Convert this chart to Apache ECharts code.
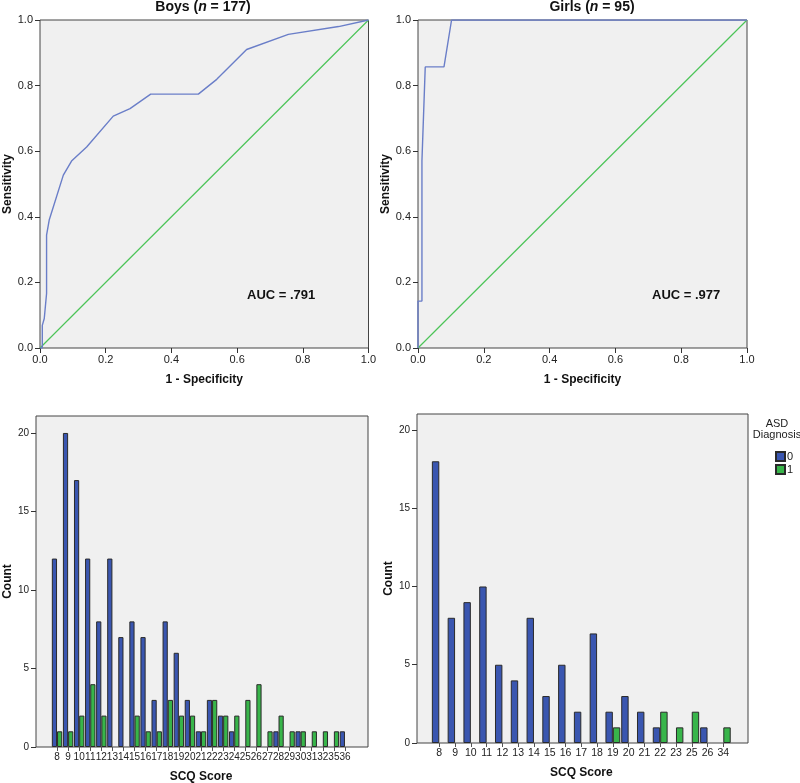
<!DOCTYPE html>
<html>
<head>
<meta charset="utf-8">
<script src="https://cdn.jsdelivr.net/npm/echarts@6/dist/echarts.min.js"></script>
<style>
html,body{margin:0;padding:0;background:#fff;}
#chart{width:800px;height:783px;}
</style>
</head>
<body>
<div id="chart"></div>
<script>
// ROC curves (1 - specificity, sensitivity)
var boysFPR = [0, 0.007, 0.007, 0.013, 0.02, 0.02, 0.028, 0.071, 0.096, 0.142, 0.223, 0.274, 0.337, 0.482, 0.538, 0.629, 0.756, 0.909, 1];
var boysTPR = [0, 0.0, 0.069, 0.09, 0.166, 0.344, 0.39, 0.527, 0.57, 0.613, 0.707, 0.73, 0.774, 0.774, 0.819, 0.91, 0.956, 0.98, 1];
var girlsFPR = [0, 0, 0.012, 0.012, 0.022, 0.079, 0.102, 1];
var girlsTPR = [0, 0.143, 0.143, 0.571, 0.857, 0.857, 1, 1];
var refX = [0, 1];
var refY = [0, 1];
var rocTicks = ['0.0', '0.2', '0.4', '0.6', '0.8', '1.0'];

// SCQ score histograms by ASD diagnosis
var boysScores = ['8','9','10','11','12','13','14','15','16','17','18','19','20','21','22','23','24','25','26','27','28','29','30','31','32','35','36'];
var boysASD0 = [12, 20, 17, 12, 8, 12, 7, 8, 7, 3, 8, 6, 3, 1, 3, 2, 1, 0, 0, 0, 1, 0, 1, 0, 0, 0, 1];
var boysASD1 = [1, 1, 2, 4, 2, 0, 0, 2, 1, 1, 3, 2, 2, 1, 3, 2, 2, 3, 4, 1, 2, 1, 1, 1, 1, 1, 0];
var girlsScores = ['8','9','10','11','12','13','14','15','16','17','18','19','20','21','22','23','25','26','34'];
var girlsASD0 = [18, 8, 9, 10, 5, 4, 8, 3, 5, 2, 7, 2, 3, 2, 1, 0, 0, 1, 0];
var girlsASD1 = [0, 0, 0, 0, 0, 0, 0, 0, 0, 0, 0, 1, 0, 0, 2, 1, 2, 0, 1];
var countTicks = [0, 5, 10, 15, 20];

function pairs(xs, ys){ return xs.map(function(x,i){ return [x, ys[i]]; }); }
function nz(a){ return a.map(function(v){ return v === 0 ? '-' : v; }); }

var FONT = '"Liberation Sans", Arial, sans-serif';
var BG = '#f0f0f0';
var FRAME = '#444444';
var BLUE = '#3a56b0';
var GREEN = '#38b54a';
var REFGREEN = '#4cc458';
var ROCBLUE = '#6a7ec8';
var LBL = {color:'#222', fontSize:11, fontFamily:FONT};
var NAME = {color:'#111', fontSize:12, fontWeight:'bold', fontFamily:FONT};

function rocX(grid){
  return {type:'value', gridIndex:grid, min:0, max:1, interval:0.2,
    name:'1 - Specificity', nameLocation:'middle', nameGap:26, nameTextStyle:NAME,
    axisLine:{show:false}, splitLine:{show:false},
    axisTick:{show:true, length:5, lineStyle:{color:'#333'}},
    axisLabel:Object.assign({margin:6, formatter:function(v){ return rocTicks[Math.round(v/0.2)]; }}, LBL)};
}
function rocY(grid){
  return {type:'value', gridIndex:grid, min:0, max:1, interval:0.2,
    name:'Sensitivity', nameLocation:'middle', nameGap:26, nameTextStyle:NAME,
    axisLine:{show:false}, splitLine:{show:false},
    axisTick:{show:true, length:5, lineStyle:{color:'#333'}},
    axisLabel:Object.assign({margin:7, formatter:function(v){ return rocTicks[Math.round(v/0.2)]; }}, LBL)};
}
function frameX(grid){ return {type:'value', gridIndex:grid, min:0, max:1, show:false}; }
function countY(grid, max, gap){
  return {type:'value', gridIndex:grid, min:0, max:max, interval:5,
    name:'Count', nameLocation:'middle', nameGap:gap, nameTextStyle:NAME,
    axisLine:{show:false}, splitLine:{show:false},
    axisTick:{show:true, length:5, lineStyle:{color:'#333'}},
    axisLabel:Object.assign({margin:7, showMaxLabel:false, formatter:function(v){ return countTicks.indexOf(v) >= 0 ? String(v) : ''; }}, LBL, {fontSize:10})};
}
function hiddenY(grid, max){ return {type:'value', gridIndex:grid, min:0, max:max, interval:5, show:false}; }
function catX(grid, cats, fs){
  return {type:'category', gridIndex:grid, data:cats,
    name:'SCQ Score', nameLocation:'middle', nameGap:24, nameTextStyle:NAME,
    axisLine:{show:false},
    axisTick:{show:true, alignWithLabel:true, length:4, lineStyle:{color:'#555'}},
    axisLabel:Object.assign({interval:0, margin:5}, LBL, {fontSize:fs})};
}
function barSeries(name, grid, data, color){
  return {type:'bar', name:name, xAxisIndex:grid, yAxisIndex:grid, data:nz(data),
    barGap:'0%', barCategoryGap:'6%',
    itemStyle:{color:color, borderColor:'#2a2a2a', borderWidth:1}};
}
function lineSeries(name, grid, xs, ys, color, w){
  return {type:'line', name:name, xAxisIndex:grid, yAxisIndex:grid, data:pairs(xs, ys),
    symbol:'none', silent:true, z:3, color:color,
    itemStyle:{color:color}, lineStyle:{color:color, width:w}};
}
function grid(l, t, w, h, framed){
  var g = {left:l, top:t, width:w, height:h, containLabel:false, outerBoundsMode:'none'};
  if (framed) { g.show = true; g.backgroundColor = BG; g.borderColor = FRAME; g.borderWidth = 1; }
  return g;
}

var chart = echarts.init(document.getElementById('chart'), null, {renderer:'canvas'});
chart.setOption({
  animation:false,
  backgroundColor:'#ffffff',
  textStyle:{fontFamily:FONT},
  grid:[
    grid(40, 20, 328.5, 328, true),
    grid(418, 20, 329, 328, true),
    grid(36, 416, 332, 331, true),
    grid(51.5, 416, 299, 331, false),
    grid(417, 414, 331, 329, true),
    grid(431.4, 414, 299.8, 329, false)
  ],
  xAxis:[rocX(0), rocX(1), frameX(2), catX(3, boysScores, 10), frameX(4), catX(5, girlsScores, 10.5)],
  yAxis:[rocY(0), rocY(1), countY(2, 21.08, 19), hiddenY(3, 21.08), countY(4, 21.02, 17), hiddenY(5, 21.02)],
  legend:{
    orient:'vertical', left:770, top:446, itemWidth:9, itemHeight:9, itemGap:2,
    data:['0','1'], icon:'rect',
    textStyle:{fontSize:11, color:'#222', fontFamily:FONT, padding:[0,0,0,-3]}
  },
  series:[
    lineSeries('boysRef', 0, refX, refY, REFGREEN, 1.2),
    lineSeries('boysROC', 0, boysFPR, boysTPR, ROCBLUE, 1.4),
    lineSeries('girlsRef', 1, refX, refY, REFGREEN, 1.2),
    lineSeries('girlsROC', 1, girlsFPR, girlsTPR, ROCBLUE, 1.4),
    barSeries('0', 3, boysASD0, BLUE),
    barSeries('1', 3, boysASD1, GREEN),
    barSeries('0', 5, girlsASD0, BLUE),
    barSeries('1', 5, girlsASD1, GREEN)
  ],
  graphic:[
    {type:'text', x:203, y:7, style:{
      text:'{b|Boys (}{i|n}{b| = 177)}', align:'center', verticalAlign:'middle',
      rich:{b:{fontSize:14, fontWeight:'bold', fill:'#111', fontFamily:FONT},
            i:{fontSize:14, fontWeight:'bold', fontStyle:'italic', fill:'#111', fontFamily:FONT}}}},
    {type:'text', x:592, y:7, style:{
      text:'{b|Girls (}{i|n}{b| = 95)}', align:'center', verticalAlign:'middle',
      rich:{b:{fontSize:14, fontWeight:'bold', fill:'#111', fontFamily:FONT},
            i:{fontSize:14, fontWeight:'bold', fontStyle:'italic', fill:'#111', fontFamily:FONT}}}},
    {type:'text', x:247, y:295, style:{text:'AUC = .791', verticalAlign:'middle',
      fontSize:13, fontWeight:'bold', fill:'#111', fontFamily:FONT}},
    {type:'text', x:652, y:295, style:{text:'AUC = .977', verticalAlign:'middle',
      fontSize:13, fontWeight:'bold', fill:'#111', fontFamily:FONT}},
    {type:'text', x:777, y:424, style:{text:'ASD', align:'center', verticalAlign:'middle',
      fontSize:11, fill:'#222', fontFamily:FONT}},
    {type:'text', x:777, y:435, style:{text:'Diagnosis', align:'center', verticalAlign:'middle',
      fontSize:11, fill:'#222', fontFamily:FONT}}
  ]
});
</script>
</body>
</html>
